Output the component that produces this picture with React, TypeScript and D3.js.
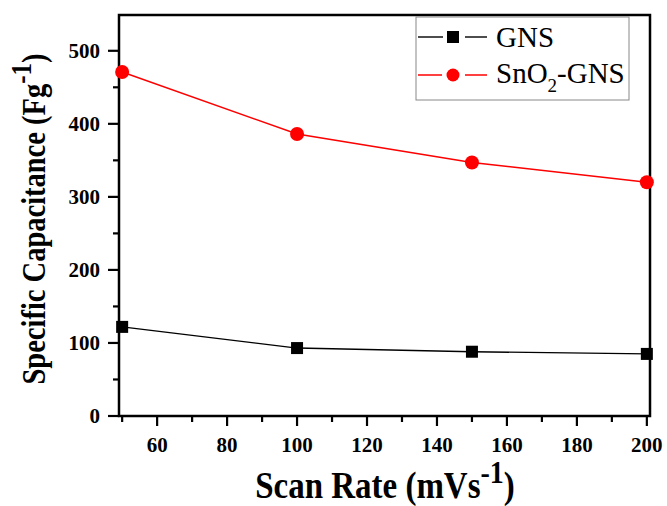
import React from "react";
import * as d3 from "d3";

const scanRates = [50, 100, 150, 200];
const gnsValues = [122, 93, 88, 85];
const snoValues = [471, 386, 347, 320];
const xTicks = [60, 80, 100, 120, 140, 160, 180, 200];
const xMinor = [50, 70, 90, 110, 130, 150, 170, 190];
const yTicks = [0, 100, 200, 300, 400, 500];
const yMinor = [50, 150, 250, 350, 450];

const layout = { width: 667, height: 506, left: 119, right: 650, top: 15, bottom: 416 };
const font = "'Liberation Serif', 'Times New Roman', serif";

export default function App() {
    const x = d3.scaleLinear().domain([49.1, 200.9]).range([layout.left, layout.right]);
    const y = d3.scaleLinear().domain([0, 549]).range([layout.bottom, layout.top]);
    const line = d3.line<number>().x((d, i) => x(scanRates[i])).y(d => y(d));

    return (
        <svg width={layout.width} height={layout.height}
            style={{ position: "absolute", left: 0, top: 0, background: "#fff" }}>
            {/* frame */}
            <rect x={layout.left} y={layout.top} width={layout.right - layout.left}
                height={layout.bottom - layout.top} fill="none" stroke="#000" strokeWidth={2.5} />

            {/* x ticks */}
            {xTicks.map(t => (
                <g key={"xt" + t}>
                    <line x1={x(t)} x2={x(t)} y1={layout.bottom} y2={layout.bottom + 10} stroke="#000" strokeWidth={2.2} />
                    <text x={x(t)} y={layout.bottom + 36} textAnchor="middle" fontFamily={font}
                        fontWeight="bold" fontSize={21}>{t}</text>
                </g>
            ))}
            {xMinor.map(t => (
                <line key={"xm" + t} x1={x(t)} x2={x(t)} y1={layout.bottom} y2={layout.bottom + 6} stroke="#000" strokeWidth={2.2} />
            ))}

            {/* y ticks */}
            {yTicks.map(t => (
                <g key={"yt" + t}>
                    <line x1={layout.left - 11} x2={layout.left} y1={y(t)} y2={y(t)} stroke="#000" strokeWidth={2.2} />
                    <text x={layout.left - 19} y={y(t) + 7} textAnchor="end" fontFamily={font}
                        fontWeight="bold" fontSize={21}>{t}</text>
                </g>
            ))}
            {yMinor.map(t => (
                <line key={"ym" + t} x1={layout.left - 6} x2={layout.left} y1={y(t)} y2={y(t)} stroke="#000" strokeWidth={2.2} />
            ))}

            {/* axis titles */}
            <text transform="translate(385,498) scale(1,1.12)" textAnchor="middle"
                fontFamily={font} fontWeight="bold" fontSize={33}>
                Scan Rate (mVs<tspan dy={-13} fontSize={28}>-1</tspan><tspan dy={13}>)</tspan>
            </text>
            <text transform="translate(45,219) rotate(-90) scale(1,1.2)"
                textAnchor="middle" fontFamily={font} fontWeight="bold" fontSize={28.5}>
                Specific Capacitance (Fg<tspan dy={-12} fontSize={25}>-1</tspan><tspan dy={12}>)</tspan>
            </text>

            {/* series */}
            <path d={line(gnsValues) || ""} fill="none" stroke="#000" strokeWidth={1.4} />
            {gnsValues.map((v, i) => (
                <rect key={"g" + i} x={x(scanRates[i]) - 6} y={y(v) - 6} width={12} height={12} fill="#000" />
            ))}
            <path d={line(snoValues) || ""} fill="none" stroke="#ff0000" strokeWidth={1.5} />
            {snoValues.map((v, i) => (
                <circle key={"s" + i} cx={x(scanRates[i])} cy={y(v)} r={7} fill="#ff0000" />
            ))}

            {/* legend */}
            <rect x={416} y={17} width={213} height={83} fill="#fff" stroke="#888" strokeWidth={1} />
            <line x1={418} x2={443} y1={37} y2={37} stroke="#000" strokeWidth={1.4} />
            <line x1={465} x2={487} y1={37} y2={37} stroke="#000" strokeWidth={1.4} />
            <rect x={447} y={31} width={12} height={12} fill="#000" />
            <text x={496} y={47} fontFamily={font} fontSize={29}>GNS</text>
            <line x1={418} x2={442} y1={75} y2={75} stroke="#ff0000" strokeWidth={1.5} />
            <line x1={465} x2={487} y1={75} y2={75} stroke="#ff0000" strokeWidth={1.5} />
            <circle cx={453} cy={75} r={6.5} fill="#ff0000" />
            <text x={496} y={83} fontFamily={font} fontSize={29}>
                SnO<tspan dy={9} fontSize={19}>2</tspan><tspan dy={-9}>-GNS</tspan>
            </text>
        </svg>
    );
}
